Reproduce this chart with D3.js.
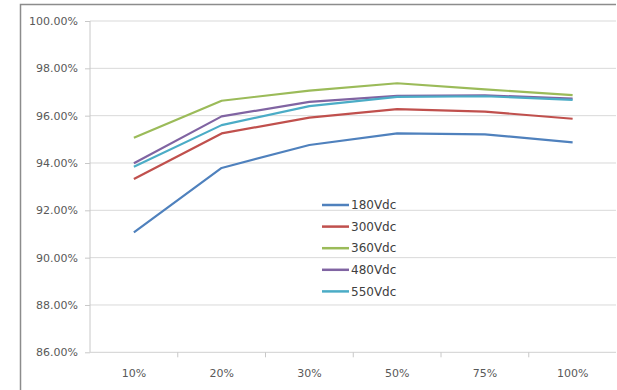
<!DOCTYPE html>
<html><head><meta charset="utf-8">
<script src="https://cdn.jsdelivr.net/npm/d3@7"></script>
<style>html,body{margin:0;background:#fff;overflow:hidden}svg{display:block}</style>
</head><body>
<svg id="c" width="617" height="390"></svg>
<script>
const categories = ["10%","20%","30%","50%","75%","100%"];
const seriesNames = ["180Vdc","300Vdc","360Vdc","480Vdc","550Vdc"];
const s180 = [91.07, 93.79, 94.76, 95.25, 95.21, 94.87];
const s300 = [93.32, 95.25, 95.92, 96.28, 96.17, 95.87];
const s360 = [95.07, 96.63, 97.06, 97.37, 97.11, 96.87];
const s480 = [93.99, 95.97, 96.58, 96.84, 96.86, 96.72];
const s550 = [93.84, 95.60, 96.40, 96.79, 96.82, 96.67];
const yTicks = [86, 88, 90, 92, 94, 96, 98, 100];
const colors = ["#4F81BD","#C0504D","#9BBB59","#8064A2","#4BACC6"];
const allSeries = [s180, s300, s360, s480, s550];

const svg = d3.select("#c");
const L = 90, R = 616.5, T = 21, B = 352.3;

svg.append("rect").attr("width", 617).attr("height", 390).attr("fill", "#fff");

// outer chart border (left and top edges visible)
svg.append("path").attr("d", "M20.5,390 V4.5 H616").attr("fill","none").attr("stroke","#8c8c8c").attr("stroke-width",1.5);

const x = d3.scaleBand().domain(categories).range([L, R]).padding(0);
const y = d3.scaleLinear().domain([86, 100]).range([B, T]);

// gridlines
svg.append("g").selectAll("line").data(yTicks.filter(d => d > 86)).join("line")
  .attr("x1", L).attr("x2", 616).attr("y1", d => y(d)).attr("y2", d => y(d))
  .attr("stroke", "#d9d9d9").attr("stroke-width", 1);

// y axis
const yAxis = d3.axisLeft(y).tickValues(yTicks).tickSize(5).tickPadding(7)
  .tickFormat(d => d.toFixed(2) + "%");
const gy = svg.append("g").attr("transform", `translate(${L},0)`).call(yAxis);
gy.select(".domain").attr("d", `M0,${B}V${T}`).attr("stroke", "#c8c8c8");
gy.selectAll(".tick line").attr("stroke", "#c8c8c8");
gy.selectAll("text").attr("fill", "#595959").style("font-family","DejaVu Sans").style("font-size","11px");

// x axis
const xAxis = d3.axisBottom(x).tickSize(0).tickPadding(17);
const gx = svg.append("g").attr("transform", `translate(0,${B})`).call(xAxis);
gx.select(".domain").attr("d", `M${L},0H616`).attr("stroke", "#d0d0d0");
gx.selectAll("text").attr("fill", "#595959").style("font-family","DejaVu Sans").style("font-size","11px");
// boundary tick marks
svg.append("g").selectAll("line").data(categories.slice(0, -1)).join("line")
  .attr("x1", d => x(d) + x.bandwidth()).attr("x2", d => x(d) + x.bandwidth())
  .attr("y1", B).attr("y2", B + 5).attr("stroke", "#c8c8c8");

// lines
const line = d3.line().x((d, i) => x(categories[i]) + x.bandwidth() / 2).y(d => y(d));
svg.append("g").selectAll("path").data(allSeries).join("path")
  .attr("d", d => line(d)).attr("fill", "none")
  .attr("stroke", (d, i) => colors[i]).attr("stroke-width", 2.2)
  .attr("stroke-linejoin", "round");

// legend
const lg = svg.append("g").attr("transform", "translate(322,205)");
const items = lg.selectAll("g").data(seriesNames).join("g")
  .attr("transform", (d, i) => `translate(0,${i * 21.6})`);
items.append("line").attr("x1", 0).attr("x2", 27).attr("y1", 0).attr("y2", 0)
  .attr("stroke", (d, i) => colors[i]).attr("stroke-width", 2.5);
items.append("text").attr("x", 29).attr("y", 0).attr("dy", "0.35em")
  .text(d => d).attr("fill", "#404040").style("font-family","DejaVu Sans").style("font-size","12px");
</script>
</body></html>
